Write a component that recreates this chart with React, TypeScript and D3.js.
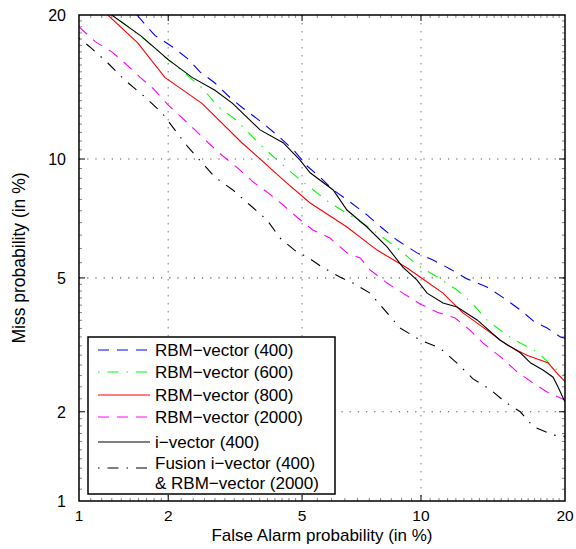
import { useEffect, useRef } from 'react';
import * as d3 from 'd3';

// DET curves, [false alarm %, miss %]
const rbm400: [number, number][] = [
  [1.58, 20], [1.81, 18.3], [2.06, 17.4], [2.3, 16.5], [2.52, 15.5], [2.8, 14.7], [3.11, 13.7],
  [3.4, 13.0], [3.86, 12.1], [4.34, 11.2], [4.78, 10.4], [5.16, 9.63], [5.59, 9.06], [6.06, 8.44],
  [6.7, 7.89], [7.4, 7.32], [8.07, 6.78], [8.77, 6.31], [9.79, 5.84], [10.66, 5.59], [11.65, 5.29],
  [12.7, 4.97], [14.0, 4.72], [15.06, 4.43], [16.4, 4.07], [17.5, 3.76], [18.5, 3.61], [19.6, 3.4], [20, 3.37],
];
const rbm600: [number, number][] = [
  [1.3, 20], [1.52, 18.8], [1.71, 17.8], [1.95, 16.6], [2.26, 15.4], [2.56, 14.35], [2.86, 13.1],
  [3.22, 12.3], [3.81, 10.8], [4.26, 9.95], [4.84, 9.06], [5.94, 7.84], [6.82, 7.23], [7.53, 6.78],
  [8.92, 5.94], [9.79, 5.42], [10.9, 5.03], [12.07, 4.63], [13.0, 4.26], [14.0, 3.81], [15.4, 3.44],
  [16.4, 3.26], [17.8, 3.05], [19.0, 2.76], [20, 2.61],
];
const rbm800: [number, number][] = [
  [1.26, 20], [1.59, 17.7], [1.95, 15.1], [2.56, 13.3], [3.37, 10.9], [3.56, 10.5], [4.54, 8.77],
  [5.26, 7.84], [6.58, 6.82], [7.84, 5.94], [9.28, 5.32], [9.95, 5.03], [11.23, 4.54], [12.44, 3.99],
  [14.0, 3.56], [15.4, 3.22], [16.9, 3.0], [18.6, 2.84], [19.3, 2.65], [20, 2.49],
];
const rbm2000: [number, number][] = [
  [1.0, 19.0], [1.14, 17.8], [1.3, 17.0], [1.44, 16.15], [1.62, 15.1], [1.79, 14.3], [2.0, 13.2],
  [2.21, 12.4], [2.43, 11.65], [2.67, 10.9], [2.96, 10.16], [3.28, 9.52], [3.64, 8.82], [4.02, 8.3],
  [4.43, 7.75], [4.87, 7.19], [5.35, 6.7], [5.94, 6.39], [6.58, 5.84], [7.11, 5.66], [7.53, 5.26],
  [8.3, 4.84], [9.06, 4.54], [9.95, 4.23], [10.9, 4.01], [11.95, 3.86], [12.88, 3.56], [13.74, 3.26],
  [15.06, 2.94], [16.15, 2.67], [17.3, 2.48], [18.5, 2.31], [20, 2.18],
];
const ivec400: [number, number][] = [
  [1.3, 20], [1.64, 18.2], [2.0, 16.4], [2.38, 15.1], [2.8, 14.2], [3.17, 13.3], [3.81, 11.65],
  [4.43, 10.9], [4.93, 9.95], [5.26, 9.28], [6.06, 8.44], [6.58, 7.53], [7.4, 6.82], [8.3, 6.06],
  [9.06, 5.35], [9.79, 4.93], [10.33, 4.54], [11.23, 4.26], [12.07, 4.15], [13.35, 3.81], [14.9, 3.33],
  [16.4, 3.05], [17.2, 2.84], [18.2, 2.7], [19.0, 2.57], [19.4, 2.4], [19.8, 2.23], [20, 2.15],
];
const fusion: [number, number][] = [
  [1.0, 18.1], [1.09, 17.4], [1.26, 16.15], [1.44, 14.9], [1.68, 13.74], [1.91, 12.7], [2.1, 11.65],
  [2.31, 10.66], [2.56, 9.79], [2.8, 9.06], [3.17, 8.44], [3.56, 7.75], [3.99, 7.11], [4.34, 6.39],
  [4.84, 5.87], [5.16, 5.7], [5.66, 5.35], [6.31, 5.03], [6.82, 4.84], [7.53, 4.54], [8.11, 4.12],
  [8.92, 3.61], [9.95, 3.33], [11.05, 3.15], [12.07, 2.84], [13.08, 2.54], [14.2, 2.36], [15.27, 2.15],
  [16.4, 2.0], [17.4, 1.79], [19.0, 1.68], [20, 1.66],
];

const series = [
  { name: ['RBM\u2212vector (400)'], data: rbm400, color: '#0000ff', dash: '11,8' },
  { name: ['RBM\u2212vector (600)'], data: rbm600, color: '#00ff00', dash: '1.5,8,11,8' },
  { name: ['RBM\u2212vector (800)'], data: rbm800, color: '#ff0000', dash: null },
  { name: ['RBM\u2212vector (2000)'], data: rbm2000, color: '#ff00ff', dash: '11,8' },
  { name: ['i\u2212vector (400)'], data: ivec400, color: '#000000', dash: null },
  { name: ['Fusion i\u2212vector (400)', '& RBM\u2212vector (2000)'], data: fusion, color: '#000000', dash: '1.5,8,11,8' },
];

const majorTicks = [1, 2, 5, 10, 20];
const gridTicks = [2, 5, 10];

// inverse normal cdf (Acklam)
function probit(p: number): number {
  const a = [-39.69683028665376, 220.9460984245205, -275.9285104469687, 138.357751867269, -30.66479806614716, 2.506628277459239];
  const b = [-54.47609879822406, 161.5858368580409, -155.6989798598866, 66.80131188771972, -13.28068155288572];
  const c = [-0.007784894002430293, -0.3223964580411365, -2.400758277161838, -2.549671010029264, 4.374664141464968, 2.938163982698783];
  const d = [0.007784695709041462, 0.3224671290700398, 2.445134137142996, 3.754408661907416];
  const plow = 0.02425;
  if (p < plow) {
    const q = Math.sqrt(-2 * Math.log(p));
    return (((((c[0] * q + c[1]) * q + c[2]) * q + c[3]) * q + c[4]) * q + c[5]) /
      ((((d[0] * q + d[1]) * q + d[2]) * q + d[3]) * q + 1);
  }
  if (p <= 1 - plow) {
    const q = p - 0.5;
    const r = q * q;
    return (((((a[0] * r + a[1]) * r + a[2]) * r + a[3]) * r + a[4]) * r + a[5]) * q /
      (((((b[0] * r + b[1]) * r + b[2]) * r + b[3]) * r + b[4]) * r + 1);
  }
  return -probit(1 - p);
}

const App = () => {
  const svgRef = useRef<SVGSVGElement>(null);

  useEffect(() => {
    const margin = { top: 15, left: 79 };
    const width = 486;
    const height = 486;
    const font = '"Liberation Sans", Arial, sans-serif';

    const root = d3.select(svgRef.current);
    root.selectAll('*').remove();

    const svg = root.append('g')
      .attr('transform', `translate(${margin.left},${margin.top})`);

    const xs = d3.scaleLinear().domain([probit(0.01), probit(0.2)]).range([0, width]);
    const ys = d3.scaleLinear().domain([probit(0.01), probit(0.2)]).range([height, 0]);
    const x = (v: number) => xs(probit(v / 100));
    const y = (v: number) => ys(probit(v / 100));

    root.append('defs').append('clipPath').attr('id', 'plotclip')
      .append('rect').attr('width', width).attr('height', height);

    // grid
    svg.selectAll('.vgrid')
      .data(gridTicks)
      .enter().append('line')
      .attr('x1', d => x(d)).attr('x2', d => x(d))
      .attr('y1', 0).attr('y2', height)
      .attr('stroke', '#999').attr('stroke-width', 1.3)
      .attr('stroke-dasharray', '1.5,6.5');

    svg.selectAll('.hgrid')
      .data(gridTicks)
      .enter().append('line')
      .attr('y1', d => y(d)).attr('y2', d => y(d))
      .attr('x1', 0).attr('x2', width)
      .attr('stroke', '#555').attr('stroke-width', 1.2)
      .attr('stroke-dasharray', '1.2,7');

    // minor ticks
    const minor: number[] = [];
    for (let v = 1.1; v < 2; v += 0.1) minor.push(+v.toFixed(2));
    for (let v = 2.2; v < 5; v += 0.2) minor.push(+v.toFixed(2));
    for (let v = 5.5; v < 20; v += 0.5) minor.push(+v.toFixed(2));
    const mt = minor.filter(v => !majorTicks.includes(v));

    const ticks = svg.append('g').attr('stroke', '#666').attr('stroke-width', 0.8);
    mt.forEach(v => {
      ticks.append('line').attr('x1', x(v)).attr('x2', x(v)).attr('y1', height).attr('y2', height - 3);
      ticks.append('line').attr('x1', x(v)).attr('x2', x(v)).attr('y1', 0).attr('y2', 3);
      ticks.append('line').attr('y1', y(v)).attr('y2', y(v)).attr('x1', 0).attr('x2', 3);
      ticks.append('line').attr('y1', y(v)).attr('y2', y(v)).attr('x1', width).attr('x2', width - 3);
    });
    const major = svg.append('g').attr('stroke', '#000').attr('stroke-width', 1);
    gridTicks.forEach(v => {
      major.append('line').attr('x1', x(v)).attr('x2', x(v)).attr('y1', height).attr('y2', height - 6);
      major.append('line').attr('x1', x(v)).attr('x2', x(v)).attr('y1', 0).attr('y2', 6);
      major.append('line').attr('y1', y(v)).attr('y2', y(v)).attr('x1', 0).attr('x2', 6);
      major.append('line').attr('y1', y(v)).attr('y2', y(v)).attr('x1', width).attr('x2', width - 6);
    });

    // curves
    const line = d3.line<[number, number]>()
      .x(d => x(d[0]))
      .y(d => y(d[1]));

    const curves = svg.append('g').attr('clip-path', 'url(#plotclip)');
    series.forEach(s => {
      curves.append('path')
        .attr('fill', 'none')
        .attr('stroke', s.color)
        .attr('stroke-width', 1.1)
        .attr('stroke-dasharray', s.dash)
        .attr('d', line(s.data));
    });

    // frame
    svg.append('rect')
      .attr('width', width).attr('height', height)
      .attr('fill', 'none').attr('stroke', '#000').attr('stroke-width', 1.5);

    // tick labels
    svg.selectAll('.xlab')
      .data(majorTicks)
      .enter().append('text')
      .attr('x', d => x(d)).attr('y', height + 20)
      .attr('text-anchor', 'middle')
      .style('font-family', font).style('font-size', '15.5px')
      .text(d => d);

    svg.selectAll('.ylab')
      .data(majorTicks)
      .enter().append('text')
      .attr('x', -13).attr('y', d => y(d) + 6)
      .attr('text-anchor', 'end')
      .style('font-family', font).style('font-size', '16px')
      .text(d => d);

    // axis titles
    svg.append('text')
      .attr('x', width / 2).attr('y', height + 40)
      .attr('text-anchor', 'middle')
      .style('font-family', font).style('font-size', '17px')
      .text('False Alarm probability (in %)');

    svg.append('text')
      .attr('transform', `translate(-54,${height / 2}) rotate(-90)`)
      .attr('text-anchor', 'middle')
      .style('font-family', font).style('font-size', '17.5px')
      .text('Miss probability (in %)');

    // legend
    const lg = svg.append('g').attr('transform', 'translate(9,322)');
    lg.append('rect')
      .attr('width', 247).attr('height', 157)
      .attr('fill', '#fff').attr('stroke', '#000').attr('stroke-width', 1.5);

    const rowY = [13, 35, 58, 80, 105, 131];
    series.forEach((s, i) => {
      lg.append('line')
        .attr('x1', 10).attr('x2', 62)
        .attr('y1', rowY[i]).attr('y2', rowY[i])
        .attr('stroke', s.color).attr('stroke-width', 1.1)
        .attr('stroke-dasharray', s.dash);
      s.name.forEach((t, j) => {
        lg.append('text')
          .attr('x', 67).attr('y', (i === 5 ? rowY[i] + 1 : rowY[i] + 6) + j * 20)
          .style('font-family', font).style('font-size', '17px')
          .text(t);
      });
    });
  }, []);

  return (
    <svg ref={svgRef} width={576} height={549}
      style={{ position: 'absolute', left: 0, top: 0, background: '#fff' }} />
  );
};

export default App;
